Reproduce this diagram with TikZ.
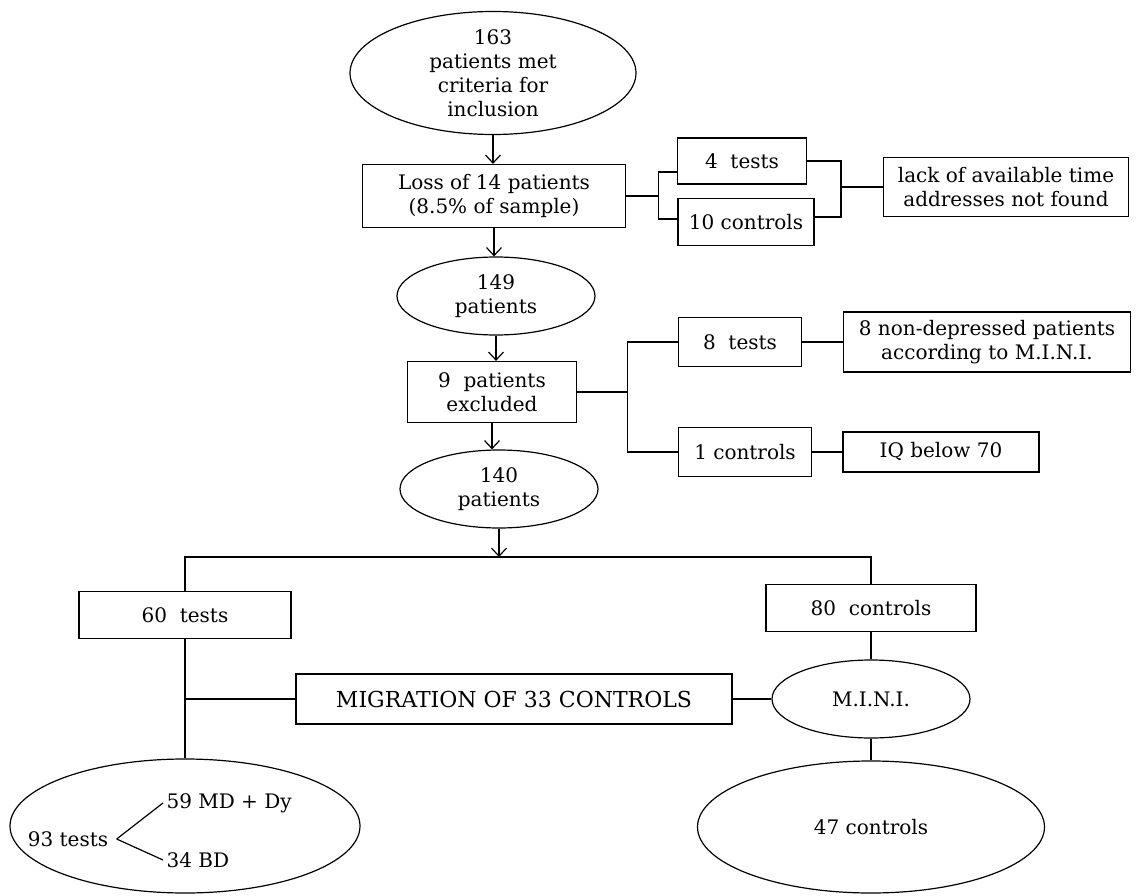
\documentclass[tikz,border=0pt]{standalone}
\usepackage{fontspec}
\setmainfont{DejaVu Serif}
\usetikzlibrary{shapes.geometric,arrows.meta}

\begin{document}
\begin{tikzpicture}[
  x=1pt, y=-1pt,
  font=\fontsize{20}{24}\selectfont,
  box/.style={draw, rectangle, line width=1.2pt, inner sep=0pt, align=center},
  oval/.style={draw, ellipse, line width=1.2pt, inner sep=-20pt, align=center},
  link/.style={draw, line width=1.2pt},
  flow/.style={link, -{Straight Barb[length=8pt,width=15pt]}}
  ]
  \useasboundingbox (0,0) rectangle (1138,896);

  % main column
  \node[oval, minimum width=286pt, minimum height=123pt] (incl) at (493,73) {163\\patients met\\criteria for\\inclusion};
  \node[box, minimum width=263pt, minimum height=63pt] (loss) at (494,196) {Loss of 14 patients\\(8.5\% of sample)};
  \node[oval, minimum width=198pt, minimum height=78pt] (pat149) at (496,296) {149\\patients};
  \node[box, minimum width=169pt, minimum height=61pt] (excl) at (492,392) {9~~patients\\excluded};
  \node[oval, minimum width=198pt, minimum height=78pt] (pat140) at (499,489) {140\\patients};
  \coordinate (split) at (499,557);

  % losses
  \node[box, minimum width=129pt, minimum height=46pt] (lossT) at (742,161) {4~~tests};
  \node[box, minimum width=136pt, minimum height=47pt] (lossC) at (746,222) {10 controls};
  \node[box, minimum width=245pt, minimum height=59pt] (why) at (1006,187) {lack of available time\\addresses not found};

  % exclusions
  \node[box, minimum width=123pt, minimum height=49pt] (exclT) at (740,342) {8~~tests};
  \node[box, minimum width=133pt, minimum height=49pt] (exclC) at (745,452) {1 controls};
  \node[box, minimum width=287pt, minimum height=60pt] (nondep) at (987,342) {8 non-depressed patients\\according to M.I.N.I.};
  \node[box, minimum width=196pt, minimum height=40pt] (iq) at (941,452) {IQ below 70};

  % groups
  \node[box, minimum width=212pt, minimum height=47pt] (tests60) at (185,615) {60~~tests};
  \node[box, minimum width=210pt, minimum height=47pt] (ctrl80) at (871,608) {80~~controls};
  \node[box, minimum width=436pt, minimum height=50pt, font=\fontsize{22}{26}\selectfont] (mig) at (514,699) {MIGRATION OF 33 CONTROLS};
  \node[oval, minimum width=198pt, minimum height=78pt] (mini) at (871,699) {M.I.N.I.};
  \node[oval, minimum width=350pt, minimum height=134pt] (tests93) at (185,826) {};
  \node[oval, minimum width=347pt, minimum height=132pt] (ctrl47) at (871,827) {47 controls};

  % inside the 93 tests oval
  \node (t93) at (68,839) {93 tests};
  \node[anchor=west] (md) at (163,803) {59 MD + Dy};
  \node[anchor=west] (bd) at (163,860) {34 BD};
  \draw[link] ([xshift=5pt]t93.east) -- (md.west);
  \draw[link] ([xshift=5pt]t93.east) -- (bd.west);

  % arrows down the column
  \draw[flow] (incl) -- (incl |- loss.north);
  \draw[flow] (loss) -- (loss |- pat149.north);
  \draw[flow] (pat149) -- (pat149 |- excl.north);
  \draw[flow] (excl) -- (excl |- pat140.north);
  \draw[flow] (pat140) -- (split);

  % loss brackets
  \draw[link] (loss.east) -- ++(32pt,0) coordinate (lj);
  \draw[link] ([yshift=-11pt]lossT.west) -| (lj) |- ([yshift=3pt]lossC.west);
  \coordinate (rj) at (841,187);
  \draw[link] (lossT.east) -| (rj) |- ([yshift=5pt]lossC.east);
  \draw[link] (rj) -- (why.west);

  % exclusion brackets
  \draw[link] (excl.east) -- ++(50pt,0) coordinate (ej);
  \draw[link] (exclT.west) -| (ej) |- (exclC.west);
  \draw[link] (exclT) -- (nondep);
  \draw[link] (exclC) -- (iq);

  % split into groups
  \draw[link] (tests60) |- (split) -| (ctrl80);
  \draw[link] (tests60) -- (tests93);
  \coordinate (mj) at (tests60 |- mig);
  \draw[link] (mig) -- (mj);
  \draw[link] (ctrl80) -- (mini);
  \draw[link] (mini) -- (mig);
  \draw[link] (mini) -- (ctrl47);
\end{tikzpicture}
\end{document}
